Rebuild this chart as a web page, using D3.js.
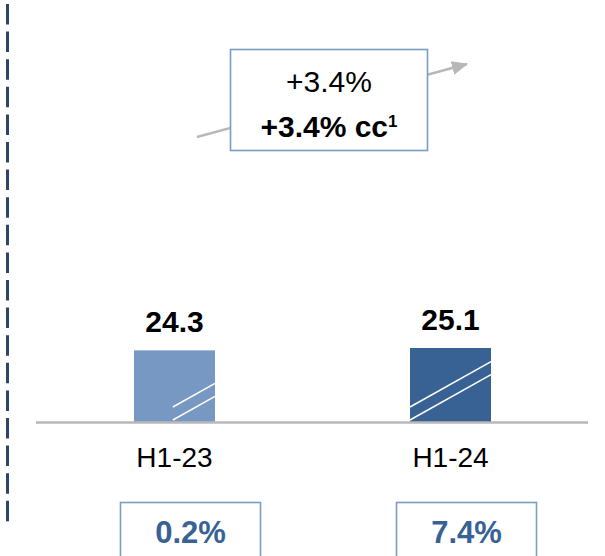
<!DOCTYPE html>
<html>
<head>
<meta charset="utf-8">
<script src="https://cdn.jsdelivr.net/npm/d3@7"></script>
<style>
  html, body { margin: 0; padding: 0; background: #fff; }
  svg { display: block; font-family: Arial, "Liberation Sans", sans-serif; }
</style>
</head>
<body>
<div id="chart"></div>
<script>
// data
const categories = ['H1-23', 'H1-24'];
const values = [24.3, 25.1];
const growthLabels = ['0.2%', '7.4%'];
const changeLabel = '+3.4%';
const changeCcLabel = '+3.4% cc';
const changeCcNote = '1';

const W = 605, H = 556;
const baseY = 422;
const barColors = ['#7698c2', '#386294'];
const boxStroke = '#7a9cc6';
const hatchStart = [0.48, 0]; // where the break hatch begins inside each bar

const svg = d3.select('#chart').append('svg')
  .attr('width', W)
  .attr('height', H);

const x = d3.scaleBand()
  .domain(categories)
  .range([36, 589])
  .paddingInner(0.7065)
  .paddingOuter(0.355);

const y = d3.scaleLinear()
  .domain([0, 25.1])
  .range([baseY, 348]);

// dashed divider on the left
svg.append('line')
  .attr('x1', 7.5).attr('x2', 7.5)
  .attr('y1', 4).attr('y2', 523)
  .attr('stroke', '#2b4669')
  .attr('stroke-width', 3)
  .attr('stroke-dasharray', '20.5 7.1');

// bars
const bars = svg.append('g');
bars.selectAll('rect')
  .data(values)
  .join('rect')
  .attr('x', (d, i) => x(categories[i]))
  .attr('y', d => y(d))
  .attr('width', x.bandwidth())
  .attr('height', d => y(0) - y(d))
  .attr('fill', (d, i) => barColors[i]);

// axis-break hatch lines
values.forEach((d, i) => {
  const x0 = x(categories[i]), bw = x.bandwidth();
  const xs = x0 + bw * hatchStart[i], xe = x0 + bw;
  const slope = 0.56;
  [15, 2].forEach(off => {
    svg.append('line')
      .attr('x1', xs).attr('y1', baseY - off)
      .attr('x2', xe).attr('y2', baseY - off - (xe - xs) * slope)
      .attr('stroke', '#fff')
      .attr('stroke-width', 1.5);
  });
});

// baseline axis
const xAxis = d3.axisBottom(x).tickSize(0).tickPadding(0);
const axisG = svg.append('g')
  .attr('transform', `translate(0,${baseY})`)
  .call(xAxis);
axisG.select('.domain')
  .attr('d', 'M36,0.5H588')
  .attr('stroke', '#b8b8b8')
  .attr('stroke-width', 2.5);
axisG.selectAll('.tick text')
  .attr('y', 45)
  .attr('dy', 0)
  .attr('font-size', 28)
  .attr('font-family', 'Arial, "Liberation Sans", sans-serif')
  .attr('fill', '#000');

// value labels
svg.append('g').selectAll('text')
  .data(values)
  .join('text')
  .attr('x', (d, i) => x(categories[i]) + x.bandwidth() / 2)
  .attr('y', d => y(d) - 18)
  .attr('text-anchor', 'middle')
  .attr('font-size', 30)
  .attr('font-weight', 'bold')
  .attr('fill', '#000')
  .text(d => d.toFixed(1));

// growth arrow
const defs = svg.append('defs');
defs.append('marker')
  .attr('id', 'arrowhead')
  .attr('viewBox', '0 0 16 14')
  .attr('refX', 15).attr('refY', 7)
  .attr('markerWidth', 16).attr('markerHeight', 14)
  .attr('markerUnits', 'userSpaceOnUse')
  .attr('orient', 'auto')
  .append('path')
  .attr('d', 'M0,0 L16,7 L0,14 Z')
  .attr('fill', '#b8b8b8');

svg.append('line')
  .attr('x1', 197).attr('y1', 137)
  .attr('x2', 467).attr('y2', 64)
  .attr('stroke', '#b8b8b8')
  .attr('stroke-width', 2.5)
  .attr('marker-end', 'url(#arrowhead)');

svg.append('rect')
  .attr('x', 230.5).attr('y', 49.5)
  .attr('width', 197).attr('height', 101)
  .attr('fill', '#fff')
  .attr('stroke', boxStroke)
  .attr('stroke-width', 1.6);

svg.append('text')
  .attr('x', 329).attr('y', 91.5)
  .attr('text-anchor', 'middle')
  .attr('font-size', 30)
  .attr('fill', '#000')
  .text(changeLabel);

const cc = svg.append('text')
  .attr('x', 329).attr('y', 136.5)
  .attr('text-anchor', 'middle')
  .attr('font-size', 30)
  .attr('font-weight', 'bold')
  .attr('fill', '#000');
cc.append('tspan').text(changeCcLabel);
cc.append('tspan')
  .attr('font-size', 17)
  .attr('dy', -10)
  .text(changeCcNote);

// growth boxes at bottom
const gb = svg.append('g').selectAll('g')
  .data(growthLabels)
  .join('g');
gb.append('rect')
  .attr('x', (d, i) => x(categories[i]) - 13.5)
  .attr('y', 502.5)
  .attr('width', 140)
  .attr('height', 80)
  .attr('fill', '#fff')
  .attr('stroke', boxStroke)
  .attr('stroke-width', 1.6);
gb.append('text')
  .attr('x', (d, i) => x(categories[i]) - 13.5 + 70)
  .attr('y', 543)
  .attr('text-anchor', 'middle')
  .attr('font-size', 31)
  .attr('font-weight', 'bold')
  .attr('fill', '#386294')
  .text(d => d);
</script>
</body>
</html>
